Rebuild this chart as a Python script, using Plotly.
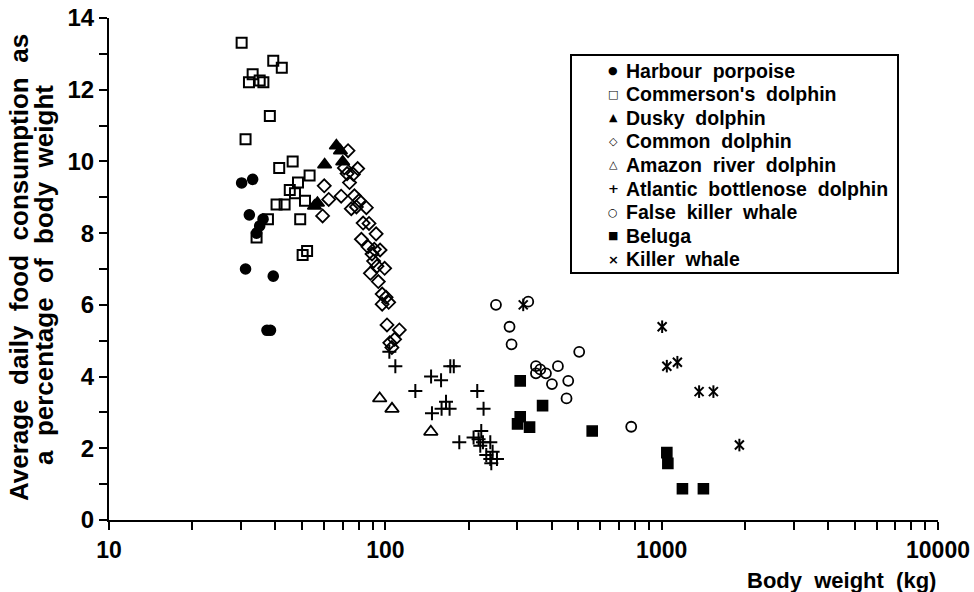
import plotly.graph_objects as go

# ---- data (body weight kg, daily food % of body weight) ----
harbour_x = [30.2, 33.1, 32.2, 36.1, 35.1, 34.2, 31.2, 39.3, 37.3, 38.4]
harbour_y = [9.40, 9.50, 8.51, 8.39, 8.20, 8.00, 7.00, 6.80, 5.29, 5.29]

commerson_x = [30.2, 39.3, 42.2, 33.1, 32.1, 35.1, 36.2, 38.2, 31.2, 46.2, 41.3, 53.2,
               48.3, 45.1, 47.1, 51.2, 40.4, 43.2, 37.6, 49.2, 34.2, 52.1, 50.2]
commerson_y = [13.31, 12.81, 12.61, 12.43, 12.21, 12.26, 12.21, 11.27, 10.62, 10.00, 9.82, 9.61,
               9.41, 9.20, 9.11, 8.90, 8.80, 8.80, 8.39, 8.39, 7.88, 7.50, 7.39]

dusky_x = [66.5, 68.8, 70.1, 60.3, 55.4, 56.8]
dusky_y = [10.44, 10.30, 9.99, 9.91, 8.76, 8.84]

common_x = [73.3, 71.1, 79.4, 72.7, 76.6, 74.2, 60.1, 62.4, 69.2, 77.3, 80.4, 75.3, 78.6,
            85.4, 59.3, 83.1, 87.3, 92.6, 81.9, 86.6, 91.2, 95.7, 89.5, 90.7, 93.3, 99.4,
            88.3, 94.3, 97.4, 100.6, 97.4, 102.8, 101.4, 112.4, 108.0, 103.8, 105.6]
common_y = [10.30, 9.82, 9.80, 9.66, 9.64, 9.41, 9.32, 8.94, 9.03, 9.04, 8.91, 8.68, 8.73,
            8.71, 8.48, 8.28, 8.27, 7.98, 7.83, 7.62, 7.55, 7.53, 7.42, 7.22, 7.08, 7.02,
            6.88, 6.65, 6.30, 6.21, 6.02, 6.07, 5.44, 5.30, 5.04, 4.94, 4.81]

amazon_x = [95.4, 105.7, 146.1]
amazon_y = [3.39, 3.10, 2.46]

bottlenose_x = [103.4, 108.7, 171.8, 176.9, 146.4, 159.1, 128.4, 215.1, 165.8, 159.8, 170.8,
                147.5, 226.7, 222.4, 185.2, 208.6, 217.5, 225.6, 239.8, 220.6, 231.9, 244.5,
                239.8, 253.5, 241.8]
bottlenose_y = [4.69, 4.29, 4.29, 4.29, 4.00, 3.90, 3.60, 3.60, 3.30, 3.10, 3.10,
                2.98, 3.10, 2.48, 2.17, 2.30, 2.25, 2.17, 2.17, 2.07, 1.81, 1.90,
                1.70, 1.70, 1.58]

false_killer_x = [251.4, 329.0, 281.5, 286.3, 503.0, 350.8, 363.6, 350.8, 381.3, 421.3,
                  459.1, 400.8, 452.6, 775.9]
false_killer_y = [6.00, 6.09, 5.39, 4.90, 4.69, 4.29, 4.20, 4.09, 4.09, 4.29,
                  3.88, 3.79, 3.39, 2.60]

beluga_x = [307.7, 370.7, 307.7, 300.9, 332.6, 560.6, 1044, 1053, 1189, 1416]
beluga_y = [3.88, 3.19, 2.88, 2.68, 2.59, 2.48, 1.88, 1.58, 0.87, 0.87]

killer_x = [315.5, 1004, 1044, 1140, 1366, 1539, 1911]
killer_y = [6.00, 5.39, 4.29, 4.40, 3.58, 3.58, 2.09]

x_tick_vals = [10, 100, 1000, 10000]
x_tick_text = ["10", "100", "1000", "10000"]
y_tick_vals = [0, 2, 4, 6, 8, 10, 12, 14]

legend_names = ["Harbour  porpoise", "Commerson's  dolphin", "Dusky  dolphin",
                "Common  dolphin", "Amazon  river  dolphin", "Atlantic  bottlenose  dolphin",
                "False  killer  whale", "Beluga", "Killer  whale"]
legend_glyphs = ["\u25CF", "\u25A1", "\u25B2", "\u25C7", "\u25B3", "+", "\u25CB", "\u25A0", "\u00D7"]

FONT = "Liberation Sans, Arial, sans-serif"

W, H = 974, 592
ML, MR, MT, MB = 109, 36, 18, 72
PW, PH = W - ML - MR, H - MT - MB


def px2paper_x(px):
    return (px - ML) / PW


def px2paper_y(py):
    return (H - MB - py) / PH


fig = go.Figure()


def add(name, xs, ys, symbol, size, lw=1.6):
    fig.add_trace(go.Scatter(
        x=xs, y=ys, mode="markers", name=name, showlegend=False,
        marker=dict(symbol=symbol, size=size, color="black",
                    line=dict(color="black", width=lw)),
    ))


add(legend_names[0], harbour_x, harbour_y, "circle", 10)
add(legend_names[1], commerson_x, commerson_y, "square-open", 10, 2)
add(legend_names[2], dusky_x, dusky_y, "triangle-up", 12)
add(legend_names[3], common_x, common_y, "diamond-open", 10, 1.8)
add(legend_names[4], amazon_x, amazon_y, "triangle-up-open", 12, 1.8)
add(legend_names[5], bottlenose_x, bottlenose_y, "cross-thin-open", 10, 2)
add(legend_names[6], false_killer_x, false_killer_y, "circle-open", 10, 1.8)
add(legend_names[7], beluga_x, beluga_y, "square", 10)
add(legend_names[8], killer_x, killer_y, "x-thin-open", 9, 2)
add(legend_names[8], killer_x, killer_y, "line-ns-open", 9, 2)

annotations = [
    dict(text="Body\u00a0 weight\u00a0 (kg)", xref="paper", yref="paper",
         x=1.0, y=px2paper_y(580), xanchor="right", yanchor="middle", showarrow=False,
         font=dict(family=FONT, size=22, weight="bold")),
    dict(text="Average\u00a0 daily\u00a0 food\u00a0 consumption\u00a0 as",
         xref="paper", yref="paper", x=px2paper_x(19), y=px2paper_y(268),
         xanchor="center", yanchor="middle", textangle=-90, showarrow=False,
         font=dict(family=FONT, size=26, weight="bold")),
    dict(text="a\u00a0 percentage\u00a0 of\u00a0 body\u00a0 weight",
         xref="paper", yref="paper", x=px2paper_x(44), y=px2paper_y(275),
         xanchor="center", yanchor="middle", textangle=-90, showarrow=False,
         font=dict(family=FONT, size=26, weight="bold")),
]

# legend box
row0, row_gap = 70.5, 23.6
for i, (nm, gl) in enumerate(zip(legend_names, legend_glyphs)):
    yy = px2paper_y(row0 + i * row_gap)
    annotations.append(dict(
        text=nm.replace("  ", "\u00a0 "), xref="paper", yref="paper",
        x=px2paper_x(624), y=yy, xanchor="left", yanchor="middle", showarrow=False,
        font=dict(family=FONT, size=19.5, weight="bold")))
    annotations.append(dict(
        text=gl, xref="paper", yref="paper",
        x=px2paper_x(613), y=yy, xanchor="center", yanchor="middle", showarrow=False,
        font=dict(family="DejaVu Sans", size=11 if gl not in ("+", "\u00D7") else 13,
                  weight="bold")))

shapes = [dict(type="rect", xref="paper", yref="paper",
               x0=px2paper_x(571), x1=px2paper_x(898),
               y0=px2paper_y(273), y1=px2paper_y(55),
               line=dict(color="black", width=2), fillcolor="rgba(0,0,0,0)")]

fig.update_layout(
    width=W, height=H,
    margin=dict(l=ML, r=MR, t=MT, b=MB),
    paper_bgcolor="white", plot_bgcolor="white",
    font=dict(family=FONT, color="black", size=18, weight="bold"),
    showlegend=False,
    xaxis=dict(
        type="log", range=[1, 4], automargin=False,
        tickvals=x_tick_vals, ticktext=x_tick_text,
        ticks="outside", ticklen=8, tickwidth=2, tickcolor="black",
        showline=True, linecolor="black", linewidth=2,
        showgrid=False, zeroline=False,
        tickfont=dict(family=FONT, size=23, weight="bold"),
        minor=dict(ticks="outside", ticklen=8, tickwidth=2, tickcolor="black",
                   dtick="D1", showgrid=False),
    ),
    yaxis=dict(
        range=[0, 14], tickvals=y_tick_vals, automargin=False,
        ticks="outside", ticklen=8, tickwidth=2, tickcolor="black",
        showline=True, linecolor="black", linewidth=2,
        showgrid=False, zeroline=False,
        tickfont=dict(family=FONT, size=24, weight="bold"),
        minor=dict(ticks="outside", ticklen=8, tickwidth=2, tickcolor="black",
                   dtick=1, showgrid=False),
    ),
    annotations=annotations,
    shapes=shapes,
)

fig.write_html("out.html")
